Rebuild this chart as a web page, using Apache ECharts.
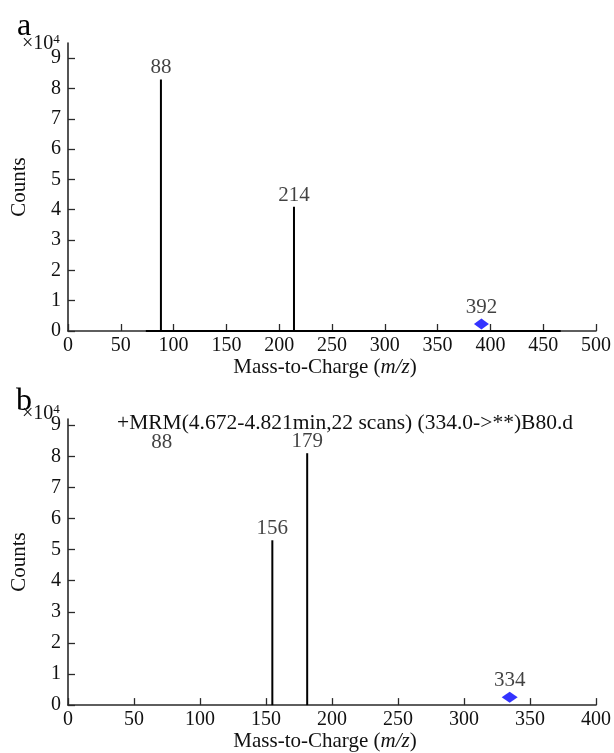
<!DOCTYPE html>
<html>
<head>
<meta charset="utf-8">
<script src="https://cdn.jsdelivr.net/npm/echarts@6/dist/echarts.min.js"></script>
<style>
html,body{margin:0;padding:0;background:#fff;}
#main{width:614px;height:753px;}
</style>
</head>
<body>
<div id="main"></div>
<script>
var dom = document.getElementById("main");
var myChart = echarts.init(dom);

// tick labels
var ticksY = [0, 1, 2, 3, 4, 5, 6, 7, 8, 9];
var ticksXA = [0, 50, 100, 150, 200, 250, 300, 350, 400, 450, 500];
var ticksXB = [0, 50, 100, 150, 200, 250, 300, 350, 400];

// panel a: product ions (x10^4 counts)
var peakMzA = [88, 214];
var peakIntA = [8.3, 4.1];
var peakLabA = ['88', '214'];
var baseMzA = [73.7, 466.6];        // flat baseline of the trace
var precMzA = [391.5];
var precIntA = [0.23];
var precLabA = ['392'];

// panel b
var peakMzB = [154.8, 181.2];
var peakIntB = [5.3, 8.1];
var peakLabB = ['156', '179'];
var precMzB = [334.6];
var precIntB = [0.25];
var precLabB = ['334'];
var strayMzB = [71];
var strayIntB = [8.45];
var strayLabB = ['88'];

var FONT = 'Liberation Serif';
var INK = '#111';
var AXIS = '#2a2a2a';

function traceA() {
    var d = [[baseMzA[0], 0]];
    for (var i = 0; i < peakMzA.length; i++) {
        d.push([peakMzA[i], 0], [peakMzA[i], peakIntA[i]], [peakMzA[i], 0]);
    }
    d.push([baseMzA[1], 0]);
    return d;
}

function pairs(xs, ys, labs) {
    var d = [];
    for (var i = 0; i < xs.length; i++) d.push({value: [xs[i], ys[i]], lab: labs[i]});
    return d;
}

function xAxisCfg(idx, max, ticks) {
    return {
        gridIndex: idx, type: 'value', min: 0, max: max, interval: 50,
        name: 'Mass-to-Charge ({i|m/z})', nameLocation: 'middle', nameGap: 25,
        nameTextStyle: {fontFamily: FONT, fontSize: 21, color: INK, padding: [0, 14, 0, 0],
            rich: {i: {fontFamily: FONT, fontSize: 21, fontStyle: 'italic', color: INK}}},
        axisLine: {show: true, onZero: false, lineStyle: {color: AXIS, width: 1.6}},
        axisTick: {show: true, inside: true, length: 7, lineStyle: {color: AXIS, width: 1.3}, customValues: ticks},
        axisLabel: {fontFamily: FONT, fontSize: 20, color: INK, margin: 5, customValues: ticks},
        splitLine: {show: false}
    };
}

function yAxisCfg(idx, max) {
    return {
        gridIndex: idx, type: 'value', min: 0, max: max,
        name: 'Counts', nameLocation: 'middle', nameGap: 38, nameRotate: 90,
        nameTextStyle: {fontFamily: FONT, fontSize: 21, color: INK},
        axisLine: {show: true, onZero: false, lineStyle: {color: AXIS, width: 1.6}},
        axisTick: {show: true, inside: true, length: 7, lineStyle: {color: AXIS, width: 1.3}, customValues: ticksY},
        axisLabel: {fontFamily: FONT, fontSize: 20, color: INK, margin: 7, padding: [5, 0, 0, 0],
            customValues: ticksY},
        splitLine: {show: false}
    };
}

var labelTop = {show: true, position: 'top', distance: 1, fontFamily: FONT, fontSize: 21, color: INK,
    formatter: function (p) { return p.data.lab; }};

var series = [{
    type: 'line', xAxisIndex: 0, yAxisIndex: 0, data: traceA(),
    showSymbol: false, lineStyle: {color: '#000', width: 2}, silent: true
}, {
    type: 'scatter', xAxisIndex: 0, yAxisIndex: 0, symbolSize: 0,
    data: pairs(peakMzA, peakIntA, peakLabA), label: labelTop
}, {
    type: 'scatter', xAxisIndex: 0, yAxisIndex: 0, symbol: 'diamond', symbolSize: [15, 11],
    itemStyle: {color: '#0000ff'}, data: pairs(precMzA, precIntA, precLabA), label: labelTop
}];

// panel b sticks, one line per peak so there is no baseline
for (var i = 0; i < peakMzB.length; i++) {
    series.push({
        type: 'line', xAxisIndex: 1, yAxisIndex: 1,
        data: [[peakMzB[i], 0], [peakMzB[i], peakIntB[i]]],
        showSymbol: false, lineStyle: {color: '#000', width: 2}, silent: true
    });
}
series.push({
    type: 'scatter', xAxisIndex: 1, yAxisIndex: 1, symbolSize: 0,
    data: pairs(peakMzB, peakIntB, peakLabB), label: labelTop
}, {
    type: 'scatter', xAxisIndex: 1, yAxisIndex: 1, symbolSize: 0,
    data: pairs(strayMzB, strayIntB, strayLabB),
    label: {show: true, position: 'inside', fontFamily: FONT, fontSize: 21, color: INK,
        formatter: function (p) { return p.data.lab; }}
}, {
    type: 'scatter', xAxisIndex: 1, yAxisIndex: 1, symbol: 'diamond', symbolSize: [16, 11],
    itemStyle: {color: '#0000ff'}, data: pairs(precMzB, precIntB, precLabB), label: labelTop
});

function powText(left, top) {
    return {
        type: 'text', left: left, top: top, silent: true,
        style: {
            text: '{m|×10}{s|4}',
            rich: {
                m: {fontFamily: FONT, fontSize: 20, fill: INK},
                s: {fontFamily: FONT, fontSize: 13, fill: INK, padding: [0, 0, 9, 0]}
            }
        }
    };
}

option = {
    backgroundColor: '#fff',
    animation: false,
    grid: [
        {left: 68, right: 17, top: 43, bottom: 422},
        {left: 68, right: 17, top: 419, bottom: 46}
    ],
    xAxis: [xAxisCfg(0, 500, ticksXA), xAxisCfg(1, 400, ticksXB)],
    yAxis: [yAxisCfg(0, 9.5), yAxisCfg(1, 9.2)],
    graphic: [
        {type: 'text', left: 17, top: 11, silent: true,
            style: {text: 'a', fontFamily: FONT, fontSize: 32, fill: '#000'}},
        {type: 'text', left: 16, top: 386, silent: true,
            style: {text: 'b', fontFamily: FONT, fontSize: 32, fill: '#000'}},
        powText(22, 33),
        powText(22, 403),
        {type: 'text', left: 117, top: 412, silent: true,
            style: {text: '+MRM(4.672-4.821min,22 scans) (334.0->**)B80.d',
                fontFamily: FONT, fontSize: 21.5, fill: INK}}
    ],
    series: series
};

if (option && typeof option === "object") {
    myChart.setOption(option, true);
}
</script>
</body>
</html>
